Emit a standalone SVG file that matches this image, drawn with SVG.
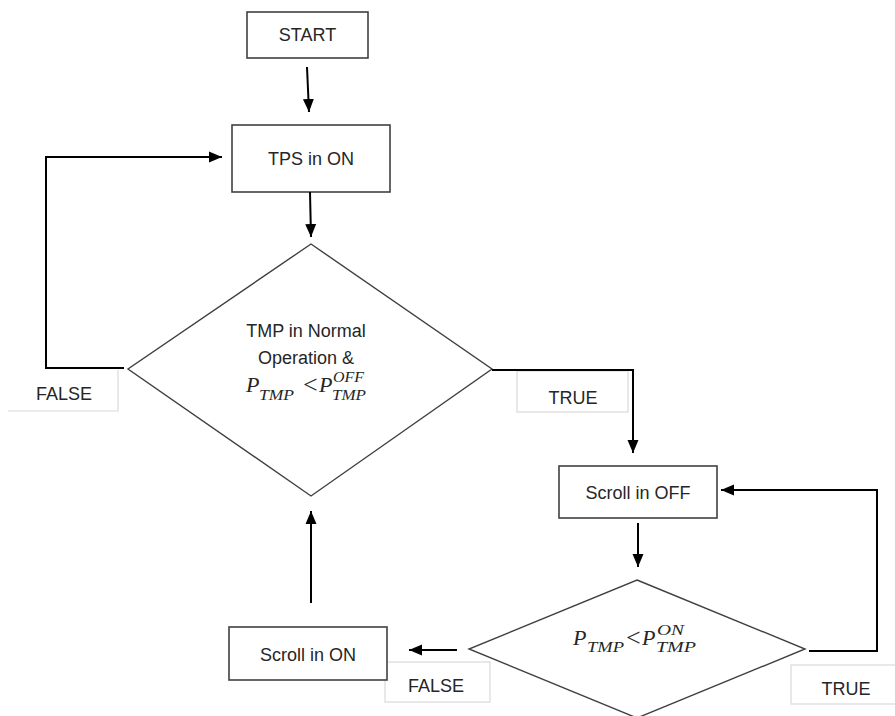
<svg xmlns="http://www.w3.org/2000/svg" width="895" height="716" viewBox="0 0 895 716">
<defs>
<marker id="ah" markerUnits="userSpaceOnUse" markerWidth="14" markerHeight="12" viewBox="0 0 14 12" refX="13" refY="6" orient="auto">
<path d="M0,0.5 L13,6 L0,11.5 z" fill="#000"/>
</marker>
<style>
.box{fill:#fff;stroke:#404040;stroke-width:1.6}
.dia{fill:#fff;stroke:#404040;stroke-width:1.4}
.lbl{fill:#fff;stroke:#d9d9d9;stroke-width:1.2}
.t{font-family:"Liberation Sans","Open Sans",sans-serif;font-size:18px;fill:#262626;text-anchor:middle}
.m{font-family:"Liberation Serif","DejaVu Serif",serif;font-style:italic;fill:#262626}
.mp{font-size:22px}
.ms{font-size:14px}
.lt{font-family:"Liberation Serif","DejaVu Serif",serif;font-size:26px;fill:#262626}
.c{fill:none;stroke:#000;stroke-width:2;marker-end:url(#ah)}
</style>
</defs>
<rect width="895" height="716" fill="#fff"/>

<g id="labels">
<g id="label-false-left">
<path class="lbl" d="M118,370 V411 H8"/>
<text class="t" x="64" y="400">FALSE</text>
</g>
<g id="label-true-top">
<rect class="lbl" x="517" y="371" width="111" height="41"/>
<text class="t" x="573" y="404">TRUE</text>
</g>
<g id="label-false-bottom">
<rect class="lbl" x="385" y="662" width="105" height="40"/>
<text class="t" x="436" y="692">FALSE</text>
</g>
<g id="label-true-bottom">
<rect class="lbl" x="791" y="665" width="110" height="39"/>
<text class="t" x="846" y="695">TRUE</text>
</g>
</g>

<g id="start">
<rect class="box" x="247" y="12" width="121" height="46"/>
<text class="t" x="307.5" y="41">START</text>
</g>

<g id="tps-on">
<rect class="box" x="232" y="125" width="158" height="67"/>
<text class="t" x="311" y="165">TPS in ON</text>
</g>

<g id="decision-tmp">
<polygon class="dia" points="311,244 492,369 311,496 128,369"/>
<text class="t" x="306" y="337">TMP in Normal</text>
<text class="t" x="306" y="364">Operation &amp;</text>
<text class="m mp" x="246" y="392">P</text>
<text class="m ms" x="259" y="400" textLength="35" lengthAdjust="spacingAndGlyphs">TMP</text>
<text class="lt" x="303" y="393">&lt;</text>
<text class="m mp" x="319" y="392">P</text>
<text class="m ms" x="333" y="382" textLength="31" lengthAdjust="spacingAndGlyphs">OFF</text>
<text class="m ms" x="332" y="400" textLength="34" lengthAdjust="spacingAndGlyphs">TMP</text>
</g>

<g id="scroll-off">
<rect class="box" x="559" y="466" width="158" height="52"/>
<text class="t" x="638" y="499">Scroll in OFF</text>
</g>

<g id="decision-p">
<polygon class="dia" points="637,580 805,649 637,718 469,649"/>
<text class="m mp" x="573" y="645">P</text>
<text class="m ms" x="587" y="652" textLength="37" lengthAdjust="spacingAndGlyphs">TMP</text>
<text class="lt" x="626" y="646">&lt;</text>
<text class="m mp" x="642" y="645">P</text>
<text class="m ms" x="657" y="635" textLength="27" lengthAdjust="spacingAndGlyphs">ON</text>
<text class="m ms" x="656" y="652" textLength="40" lengthAdjust="spacingAndGlyphs">TMP</text>
</g>

<g id="scroll-on">
<rect class="box" x="229" y="627" width="158" height="53"/>
<text class="t" x="308" y="661">Scroll in ON</text>
</g>

<g id="connectors">
<line class="c" x1="307" y1="67" x2="309" y2="112"/>
<line class="c" x1="310" y1="192" x2="311" y2="237"/>
<polyline class="c" points="492,370 633,370 633,453"/>
<line class="c" x1="638" y1="523" x2="638" y2="567"/>
<polyline class="c" points="809,651 877,651 877,490 721,490"/>
<line class="c" x1="457" y1="650" x2="409" y2="650"/>
<line class="c" x1="311" y1="603" x2="311" y2="511"/>
<polyline class="c" points="124,368 46,368 46,157 222,157"/>
</g>
</svg>
